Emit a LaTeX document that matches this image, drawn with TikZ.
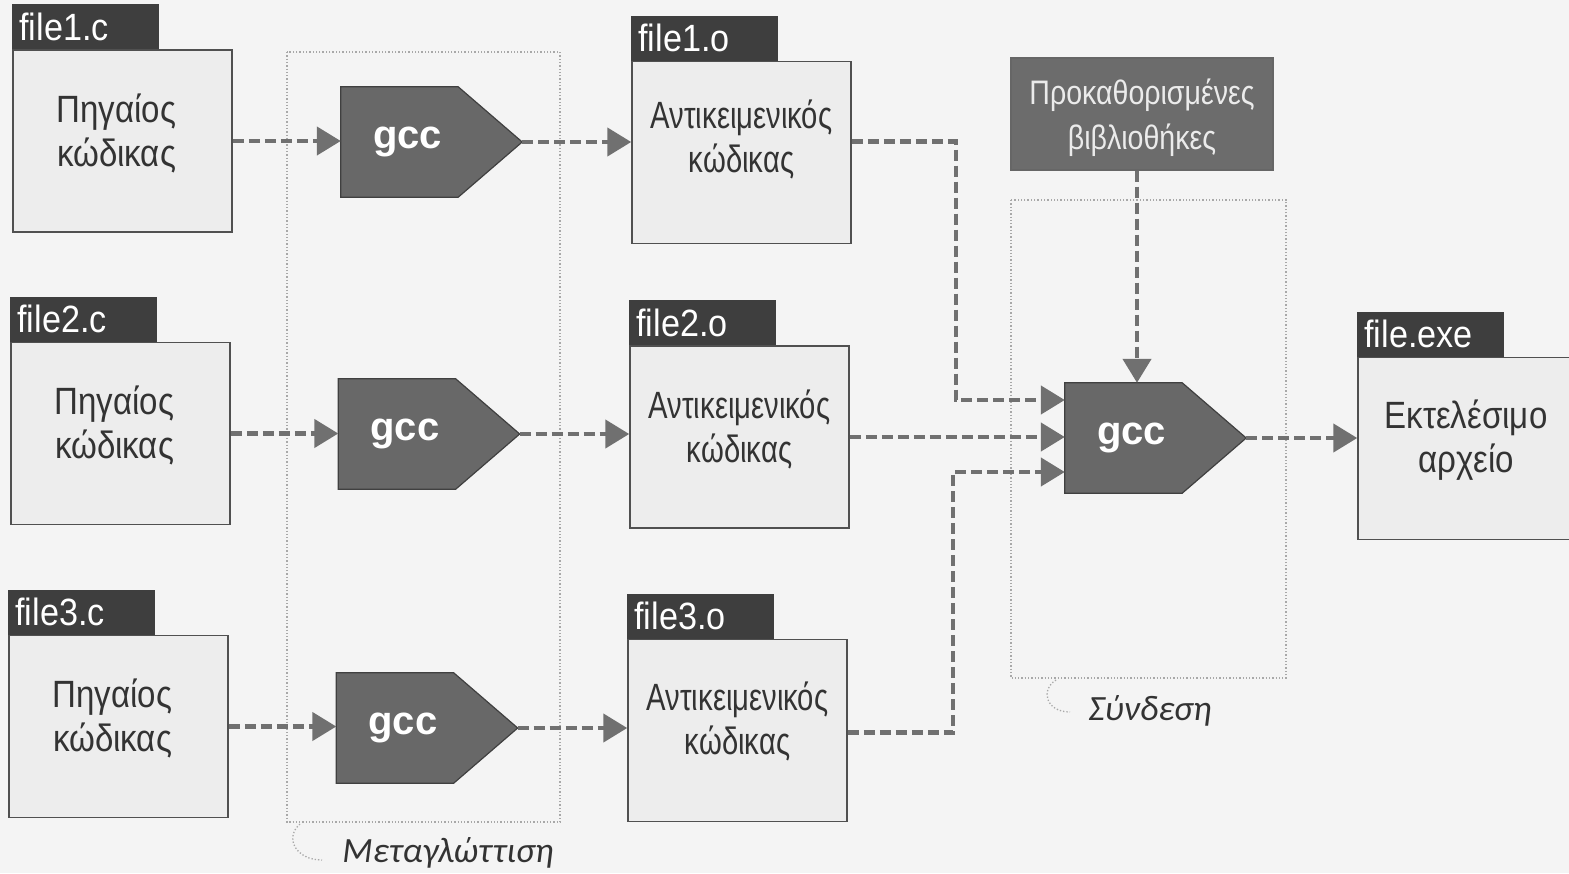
\documentclass[tikz,border=0pt]{standalone}
\usepackage{fontspec}
\setmainfont{Liberation Sans}
\newfontfamily\narrowfont[FakeStretch=0.87]{Liberation Sans}
\newfontfamily\objfont[FakeStretch=0.77]{Liberation Sans}
\newfontfamily\tabfont[FakeStretch=0.9]{Liberation Sans}
\newfontfamily\libfont[FakeStretch=0.84]{Liberation Sans}
\newfontfamily\labfont{Carlito}
\usetikzlibrary{arrows.meta,backgrounds,calc}
\definecolor{bg}{HTML}{F4F4F4}
\definecolor{boxfill}{HTML}{EDEDED}
\definecolor{boxline}{HTML}{505050}
\definecolor{tabfill}{HTML}{3E3E3E}
\definecolor{gccfill}{HTML}{686868}
\definecolor{libfill}{HTML}{6C6C6C}
\definecolor{arrowc}{HTML}{707070}
\definecolor{dotc}{HTML}{A8A8A8}
\tikzset{
  filebox/.style={draw=boxline, fill=boxfill, line width=1.5pt, minimum width=219pt, minimum height=182pt, inner sep=0pt},
  boxtext/.style={font=\narrowfont\fontsize{38}{44}\selectfont, text=black!80, align=center},
  objtext/.style={font=\objfont\fontsize{38}{44}\selectfont, text=black!80, align=center},
  filetab/.style={fill=tabfill, minimum width=147pt, minimum height=45pt, inner sep=0pt, anchor=south west, text=white, font=\tabfont\fontsize{38}{40}\selectfont, text width=133pt, align=left},
  gccbody/.style={minimum width=117pt, minimum height=110pt, inner sep=0pt},
  gcctext/.style={text=white, font=\bfseries\fontsize{40}{44}\selectfont, xshift=8pt},
  gccshape/.style={fill=gccfill, draw=black!75, line width=1.2pt},
  libbox/.style={fill=libfill, draw=black!60, line width=1.2pt, minimum width=262pt, minimum height=112pt, inner sep=0pt},
  libtext/.style={text=white!92!black, font=\libfont\fontsize{34}{45}\selectfont, align=center},
  dar/.style={draw=arrowc, line width=4.5pt, dash pattern=on 11pt off 5pt, -{Triangle[length=24pt,width=28pt]}},
  groupbox/.style={draw=dotc, line width=1.3pt, dotted},
  grouplabel/.style={font=\labfont\itshape\fontsize{35.5}{40}\selectfont, text=black!80},
}
\newcommand{\gccpoly}[1]{%
  \coordinate (#1tip) at ($(#1.east)+(64pt,0)$);
  \begin{scope}[on background layer]
    \path[gccshape] (#1.north west) -- (#1.north east) -- (#1tip) -- (#1.south east) -- (#1.south west) -- cycle;
  \end{scope}}
\begin{document}
\begin{tikzpicture}[x=1pt,y=-1pt]
\begin{scope}[on background layer]
\fill[bg] (0,0) rectangle (1569,873);
\end{scope}
\useasboundingbox (0,0) rectangle (1569,873);
% group boxes
\draw[groupbox] (287,52) rectangle (560,822);
\draw[groupbox] (1011,200) rectangle (1286,678);
\draw[groupbox] (300,824) .. controls (284,838) and (296,860) .. (322,860);
\draw[groupbox] (1056,680) .. controls (1040,690) and (1046,712) .. (1070,712);
\node[grouplabel] (lcomp) at (448,853) {Μεταγλώττιση};
\node[grouplabel] (llink) at (1150,711) {Σύνδεση};
% source files
\node[filebox, label={[boxtext, yshift=8pt, xshift=-6pt]center:Πηγαίος\\κώδικας}] (s1) at (122.5,141) {};
\node[filebox, label={[boxtext, yshift=8pt, xshift=-6pt]center:Πηγαίος\\κώδικας}] (s2) at (120.5,433.5) {};
\node[filebox, label={[boxtext, yshift=8pt, xshift=-6pt]center:Πηγαίος\\κώδικας}] (s3) at (118.5,726.5) {};
\node[filetab] (t1) at (s1.north west) {file1.c};
\node[filetab] (t2) at (s2.north west) {file2.c};
\node[filetab] (t3) at (s3.north west) {file3.c};
% compilers
\node[gccbody, label={[gcctext]center:gcc}] (g1) at (399.5,142) {};
\node[gccbody, label={[gcctext]center:gcc}] (g2) at (397,434) {};
\node[gccbody, label={[gcctext]center:gcc}] (g3) at (395,728) {};
\gccpoly{g1}\gccpoly{g2}\gccpoly{g3}
% object files
\node[filebox, label={[objtext, yshift=13pt]center:Αντικειμενικός\\κώδικας}] (o1) at (741.5,152.5) {};
\node[filebox, label={[objtext, yshift=8pt]center:Αντικειμενικός\\κώδικας}] (o2) at (739.5,437) {};
\node[filebox, label={[objtext, yshift=9pt]center:Αντικειμενικός\\κώδικας}] (o3) at (737.5,730.5) {};
\node[filetab] (u1) at (o1.north west) {file1.o};
\node[filetab] (u2) at (o2.north west) {file2.o};
\node[filetab] (u3) at (o3.north west) {file3.o};
% linker
\node[libbox, label={[libtext, yshift=-4pt]center:Προκαθορισμένες\\βιβλιοθήκες}] (lib) at (1142,114) {};
\node[gccbody, label={[gcctext]center:gcc}] (g4) at (1123.5,438) {};
\gccpoly{g4}
% executable
\node[filebox, minimum width=230pt, label={[boxtext, yshift=8pt, xshift=-7pt]center:Εκτελέσιμο\\αρχείο}] (exe) at (1473,448.5) {};
\node[filetab] (x1) at (exe.north west) {file.exe};
% connectors
\draw[dar] (s1.east) -- (s1.east -| g1.west);
\draw[dar] (s2.east) -- (s2.east -| g2.west);
\draw[dar] (s3.east) -- (s3.east -| g3.west);
\draw[dar] (g1tip) -- (g1tip -| o1.west);
\draw[dar] (g2tip) -- (g2tip -| o2.west);
\draw[dar] (g3tip) -- (g3tip -| o3.west);
\draw[dar] ([yshift=11pt]o1.east) -- ++(104,0) |- ([yshift=38pt]g4.west);
\draw[dar] (o2.east) -- (o2.east -| g4.west);
\draw[dar] ([yshift=-2pt]o3.east) -- ++(105,0) |- ([yshift=-34pt]g4.west);
\draw[dar] ([xshift=-5pt]lib.south) -- ([xshift=-5pt]lib.south |- g4.north);
\draw[dar] (g4tip) -- (g4tip -| exe.west);
\end{tikzpicture}
\end{document}
